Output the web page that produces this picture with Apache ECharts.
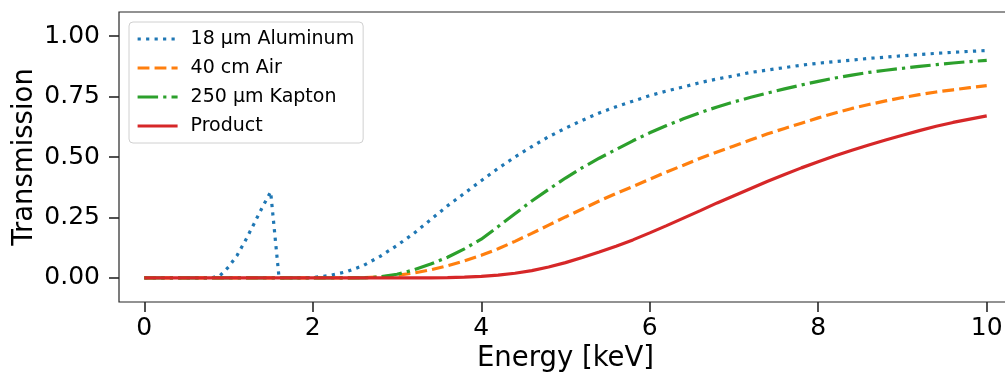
<!DOCTYPE html>
<html>
<head>
<meta charset="utf-8">
<script src="https://cdn.jsdelivr.net/npm/echarts@6/dist/echarts.min.js"></script>
<style>
  html, body { margin: 0; padding: 0; background: #fff; }
  #chart { width: 1005px; height: 377px; }
</style>
</head>
<body>
<div id="chart"></div>
<script>
// Photon energy grid [keV] (finer around the Al K-edge)
const energies = [
  0, 0.5, 0.8, 0.9, 1.0, 1.1, 1.2, 1.3, 1.4, 1.5, 1.6, 1.8,
  2.0, 2.2, 2.4, 2.6, 2.8, 3.0, 3.2, 3.4, 3.6, 3.8,
  4.0, 4.2, 4.4, 4.6, 4.8, 5.0, 5.2, 5.4, 5.6, 5.8,
  6.0, 6.2, 6.4, 6.6, 6.8, 7.0, 7.2, 7.4, 7.6, 7.8,
  8.0, 8.2, 8.4, 8.6, 8.8, 9.0, 9.2, 9.4, 9.6, 9.8, 10.0
];

// Transmission of each absorber
const aluminum = [
  0, 0, 0, 0.01, 0.045, 0.092, 0.154, 0.222, 0.291, 0.356, 0, 0,
  0.001, 0.01, 0.025, 0.051, 0.089, 0.134, 0.184, 0.241, 0.298, 0.35,
  0.402, 0.453, 0.5, 0.543, 0.584, 0.619, 0.652, 0.682, 0.708, 0.731,
  0.754, 0.773, 0.79, 0.808, 0.823, 0.836, 0.85, 0.86, 0.87, 0.88,
  0.888, 0.895, 0.901, 0.908, 0.913, 0.919, 0.924, 0.929, 0.933, 0.937, 0.941
];
const air = [
  0, 0, 0, 0, 0, 0, 0, 0, 0, 0, 0, 0,
  0, 0, 0, 0.001, 0.004, 0.01, 0.02, 0.033, 0.05, 0.07,
  0.093, 0.12, 0.151, 0.184, 0.218, 0.252, 0.285, 0.318, 0.349, 0.378,
  0.408, 0.438, 0.466, 0.495, 0.521, 0.546, 0.571, 0.596, 0.618, 0.64,
  0.662, 0.682, 0.701, 0.717, 0.732, 0.746, 0.758, 0.769, 0.778, 0.787, 0.795
];
const kapton = [
  0, 0, 0, 0, 0, 0, 0, 0, 0, 0, 0, 0,
  0, 0, 0, 0, 0.004, 0.015, 0.033, 0.057, 0.085, 0.12,
  0.16, 0.212, 0.265, 0.318, 0.366, 0.413, 0.456, 0.495, 0.531, 0.567,
  0.6, 0.63, 0.658, 0.684, 0.707, 0.728, 0.747, 0.765, 0.782, 0.798,
  0.813, 0.827, 0.839, 0.85, 0.859, 0.867, 0.875, 0.882, 0.889, 0.895, 0.9
];
const product = [
  0, 0, 0, 0, 0, 0, 0, 0, 0, 0, 0, 0,
  0, 0, 0, 0, 0, 0, 0, 0, 0.001, 0.003,
  0.006, 0.011, 0.019, 0.03, 0.045, 0.063, 0.084, 0.107, 0.131, 0.157,
  0.186, 0.216, 0.247, 0.278, 0.31, 0.34, 0.37, 0.4, 0.428, 0.455,
  0.48, 0.505, 0.528, 0.55, 0.57, 0.59, 0.609, 0.627, 0.643, 0.657, 0.67
];

const seriesNames = ['18 µm Aluminum', '40 cm Air', '250 µm Kapton', 'Product'];
const seriesColors = ['#1f77b4', '#ff7f0e', '#2ca02c', '#d62728'];

const xTickValues = [0, 2, 4, 6, 8, 10];
const yTickValues = [0, 0.25, 0.5, 0.75, 1.0];

const FONT = 'DejaVu Sans';
const INK = '#262626';
const LW = 3.2;
// line dash patterns (dotted, dashed, dash-dot, solid)
const dashes = [[1 * LW, 1.65 * LW], [3.7 * LW, 1.6 * LW], [6.4 * LW, 1.6 * LW, 1 * LW, 1.6 * LW], 'solid'];

const columns = [aluminum, air, kapton, product];

const chart = echarts.init(document.getElementById('chart'), null, { renderer: 'canvas' });

chart.setOption({
  animation: false,
  backgroundColor: '#fff',
  grid: {
    left: 119, top: 12, right: -7, bottom: 75,
    show: true, borderColor: INK, borderWidth: 1.2,
    containLabel: false, outerBoundsMode: 'none'
  },
  legend: {
    orient: 'vertical',
    left: 129, top: 22,
    padding: [7, 9, 7, 7],
    itemWidth: 40, itemHeight: 14, itemGap: 9,
    backgroundColor: 'rgba(255,255,255,0.8)',
    borderColor: '#d0d0d0', borderWidth: 1, borderRadius: 4,
    itemStyle: { color: 'rgba(0,0,0,0)', borderWidth: 0, opacity: 0 },
    lineStyle: { width: LW },
    textStyle: { fontFamily: FONT, fontSize: 19, color: '#000', lineHeight: 20, padding: [0, 0, 0, 8] },
    data: seriesNames
  },
  xAxis: {
    type: 'value', min: -0.3, max: 10.3,
    axisLine: { show: false, onZero: false },
    splitLine: { show: false },
    axisTick: { show: true, inside: false, length: 10, customValues: xTickValues, lineStyle: { color: INK, width: 1.6 } },
    axisLabel: {
      customValues: xTickValues, fontFamily: FONT, fontSize: 25, color: '#000', margin: 14,
      formatter: v => String(v)
    },
    name: 'Energy [keV]', nameLocation: 'middle', nameGap: 43, nameMoveOverlap: false,
    nameTextStyle: { fontFamily: FONT, fontSize: 27.5, color: '#000' }
  },
  yAxis: {
    type: 'value', min: -0.1, max: 1.1,
    axisLine: { show: false, onZero: false },
    splitLine: { show: false },
    axisTick: { show: true, inside: false, length: 10, customValues: yTickValues, lineStyle: { color: INK, width: 1.6 } },
    axisLabel: {
      customValues: yTickValues, fontFamily: FONT, fontSize: 25, color: '#000', margin: 19,
      formatter: v => v.toFixed(2)
    },
    name: 'Transmission', nameLocation: 'middle', nameGap: 80, nameMoveOverlap: false,
    nameTextStyle: { fontFamily: FONT, fontSize: 27.5, color: '#000' }
  },
  series: columns.map((vals, i) => ({
    type: 'line',
    name: seriesNames[i],
    data: energies.map((e, k) => [e, vals[k]]),
    symbol: 'none',
    showSymbol: false,
    smooth: false,
    clip: false,
    color: seriesColors[i],
    lineStyle: { color: seriesColors[i], width: LW, type: dashes[i], cap: 'butt' },
    z: 2 + i
  }))
});
</script>
</body>
</html>
